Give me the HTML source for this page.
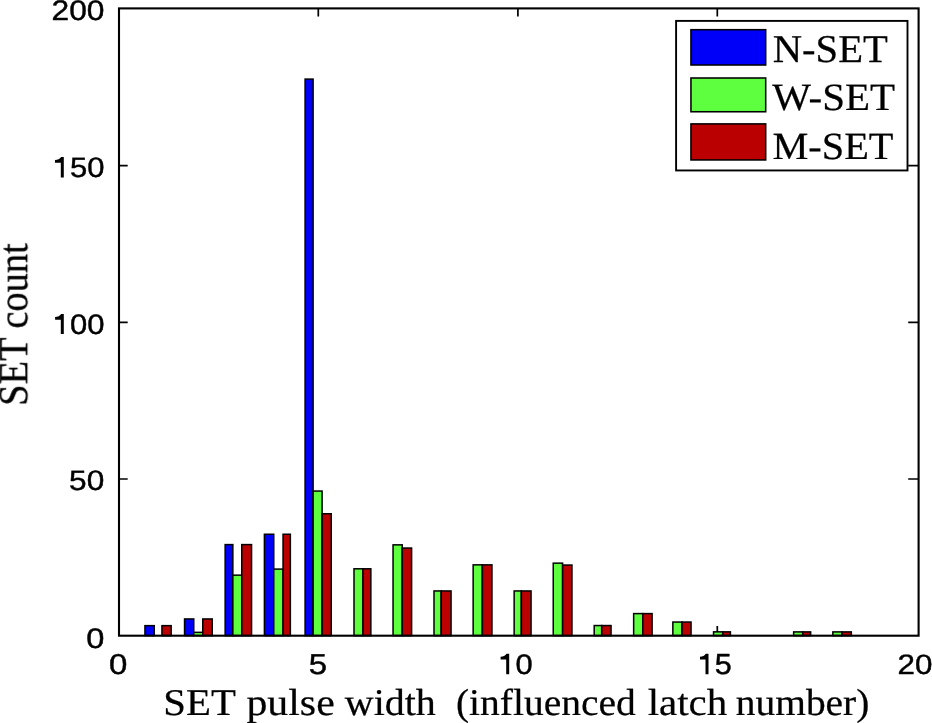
<!DOCTYPE html>
<html><head><meta charset="utf-8"><style>
html,body{margin:0;padding:0;background:#fff;}
body{width:932px;height:723px;overflow:hidden;position:relative;}
svg{position:absolute;left:0;top:0;filter:blur(0.3px);}
text{fill:#000;stroke:#000;stroke-width:0.45px;stroke-linejoin:round;text-rendering:geometricPrecision;}
text[style*="Serif"]{stroke-width:0.25px;}
</style></head><body>
<svg width="932" height="723" viewBox="0 0 932 723">
<rect x="0" y="0" width="932" height="723" fill="#fff"/>
<path d="M318.30 635.7V626.1M318.30 8.4V16.6M517.90 635.7V626.1M517.90 8.4V16.6M717.30 635.7V626.1M717.30 8.4V16.6M119.0 479.00H127.7M918.6 479.00H908.2M119.0 322.35H127.7M918.6 322.35H908.2M119.0 165.55H127.7M918.6 165.55H908.2" stroke="#000" stroke-width="1.7" fill="none"/>
<g stroke="#000" stroke-width="1.5" stroke-linejoin="miter">
<rect x="144.95" y="625.65" width="9.30" height="9.95" fill="#0000FA"/>
<rect x="161.95" y="625.65" width="9.20" height="9.95" fill="#BA0000"/>
<rect x="184.55" y="618.95" width="9.20" height="16.65" fill="#0000FA"/>
<rect x="193.75" y="632.35" width="9.00" height="3.25" fill="#5EFF3F"/>
<rect x="202.75" y="618.95" width="9.50" height="16.65" fill="#BA0000"/>
<rect x="225.15" y="544.60" width="7.70" height="91.00" fill="#0000FA"/>
<rect x="232.85" y="575.15" width="8.90" height="60.45" fill="#5EFF3F"/>
<rect x="241.75" y="544.60" width="9.80" height="91.00" fill="#BA0000"/>
<rect x="264.40" y="534.25" width="9.35" height="101.35" fill="#0000FA"/>
<rect x="273.75" y="569.10" width="9.30" height="66.50" fill="#5EFF3F"/>
<rect x="283.05" y="534.25" width="7.30" height="101.35" fill="#BA0000"/>
<rect x="305.10" y="79.10" width="8.00" height="556.50" fill="#0000FA"/>
<rect x="313.10" y="491.05" width="9.00" height="144.55" fill="#5EFF3F"/>
<rect x="322.10" y="513.75" width="9.15" height="121.85" fill="#BA0000"/>
<rect x="354.00" y="568.80" width="8.95" height="66.80" fill="#5EFF3F"/>
<rect x="362.95" y="568.80" width="7.90" height="66.80" fill="#BA0000"/>
<rect x="393.05" y="544.85" width="9.20" height="90.75" fill="#5EFF3F"/>
<rect x="402.25" y="548.05" width="9.35" height="87.55" fill="#BA0000"/>
<rect x="434.00" y="590.95" width="7.20" height="44.65" fill="#5EFF3F"/>
<rect x="441.20" y="590.95" width="9.85" height="44.65" fill="#BA0000"/>
<rect x="473.15" y="564.85" width="9.20" height="70.75" fill="#5EFF3F"/>
<rect x="482.35" y="564.85" width="9.60" height="70.75" fill="#BA0000"/>
<rect x="514.15" y="590.95" width="7.20" height="44.65" fill="#5EFF3F"/>
<rect x="521.35" y="590.95" width="9.70" height="44.65" fill="#BA0000"/>
<rect x="553.25" y="563.15" width="9.35" height="72.45" fill="#5EFF3F"/>
<rect x="562.60" y="565.05" width="9.35" height="70.55" fill="#BA0000"/>
<rect x="594.20" y="625.55" width="7.50" height="10.05" fill="#5EFF3F"/>
<rect x="601.70" y="625.55" width="9.35" height="10.05" fill="#BA0000"/>
<rect x="633.65" y="613.60" width="9.10" height="22.00" fill="#5EFF3F"/>
<rect x="642.75" y="613.60" width="9.35" height="22.00" fill="#BA0000"/>
<rect x="672.85" y="622.05" width="9.10" height="13.55" fill="#5EFF3F"/>
<rect x="681.95" y="622.05" width="9.10" height="13.55" fill="#BA0000"/>
<rect x="713.55" y="631.85" width="9.15" height="3.75" fill="#5EFF3F"/>
<rect x="722.70" y="631.85" width="7.70" height="3.75" fill="#BA0000"/>
<rect x="793.65" y="631.90" width="9.05" height="3.70" fill="#5EFF3F"/>
<rect x="802.70" y="631.90" width="7.95" height="3.70" fill="#BA0000"/>
<rect x="832.85" y="631.90" width="9.15" height="3.70" fill="#5EFF3F"/>
<rect x="842.00" y="631.90" width="9.35" height="3.70" fill="#BA0000"/>
</g>
<rect x="119.0" y="8.4" width="799.6" height="627.3000000000001" fill="none" stroke="#000" stroke-width="2.1"/>
<rect x="676.1" y="20.9" width="231.4" height="149.55" fill="#fff" stroke="#000" stroke-width="1.9"/>
<g stroke="#000" stroke-width="1.55">
<rect x="690.95" y="29.7" width="74.75" height="35.3" fill="#0000FA"/>
<rect x="690.95" y="78.0" width="74.75" height="33.75" fill="#5EFF3F"/>
<rect x="690.95" y="123.9" width="74.75" height="36.05" fill="#BA0000"/>
</g>
<g style="opacity:0.999">
<text transform="matrix(1.1232 0 0 0.9799 86.31 648.03)" style="font-family:&quot;Liberation Sans&quot;,sans-serif;font-size:29px" xml:space="preserve">0</text>
<text transform="matrix(1.0899 0 0 0.9708 69.10 490.17)" style="font-family:&quot;Liberation Sans&quot;,sans-serif;font-size:29px" xml:space="preserve">50</text>
<text transform="matrix(1.0680 0 0 0.9739 52.70 333.63)" style="font-family:&quot;Liberation Sans&quot;,sans-serif;font-size:29px" xml:space="preserve"><tspan visibility="hidden">1</tspan>00</text>
<text transform="matrix(1.0680 0 0 0.9708 52.70 176.87)" style="font-family:&quot;Liberation Sans&quot;,sans-serif;font-size:29px" xml:space="preserve"><tspan visibility="hidden">1</tspan>50</text>
<text transform="matrix(1.0936 0 0 0.9779 51.49 19.83)" style="font-family:&quot;Liberation Sans&quot;,sans-serif;font-size:29px" xml:space="preserve">200</text>
<path d="M61.10 313.90H63.80V333.95H60.80V319.70H55.10V316.90C57.70 316.80 59.90 315.90 61.10 313.90Z" fill="#000"/>
<path d="M61.10 157.00H63.80V177.40H60.80V162.80H55.00V160.00C57.60 159.90 59.90 159.00 61.10 157.00Z" fill="#000"/>
<path d="M506.50 653.80H509.20V674.20H506.20V659.60H500.60V656.80C503.20 656.70 505.30 655.80 506.50 653.80Z" fill="#000"/>
<path d="M705.80 653.80H708.50V674.30H705.50V659.60H700.00V656.80C702.60 656.70 704.60 655.80 705.80 653.80Z" fill="#000"/>
<text transform="matrix(1.1377 0 0 0.9846 108.99 674.13)" style="font-family:&quot;Liberation Sans&quot;,sans-serif;font-size:29px" xml:space="preserve">0</text>
<text transform="matrix(1.1374 0 0 0.9927 308.74 673.95)" style="font-family:&quot;Liberation Sans&quot;,sans-serif;font-size:29px" xml:space="preserve">5</text>
<text transform="matrix(1.0642 0 0 0.9786 498.31 673.83)" style="font-family:&quot;Liberation Sans&quot;,sans-serif;font-size:29px" xml:space="preserve"><tspan visibility="hidden">1</tspan>0</text>
<text transform="matrix(1.0538 0 0 0.9999 697.74 673.95)" style="font-family:&quot;Liberation Sans&quot;,sans-serif;font-size:29px" xml:space="preserve"><tspan visibility="hidden">1</tspan>5</text>
<text transform="matrix(1.0803 0 0 0.9684 897.61 673.83)" style="font-family:&quot;Liberation Sans&quot;,sans-serif;font-size:29px" xml:space="preserve">20</text>
<text transform="matrix(1.0732 0 0 0.9934 163.32 715.19)" style="font-family:&quot;Liberation Serif&quot;,serif;font-size:38px">SET</text>
<text transform="matrix(1.1002 0 0 0.9934 246.45 715.19)" style="font-family:&quot;Liberation Serif&quot;,serif;font-size:38px">pulse</text>
<text transform="matrix(1.0511 0 0 0.9934 344.84 715.19)" style="font-family:&quot;Liberation Serif&quot;,serif;font-size:38px">width</text>
<text transform="matrix(1.0394 0 0 0.9934 455.97 715.19)" style="font-family:&quot;Liberation Serif&quot;,serif;font-size:38px">(influenced</text>
<text transform="matrix(1.0774 0 0 0.9934 647.70 715.19)" style="font-family:&quot;Liberation Serif&quot;,serif;font-size:38px">latch</text>
<text transform="matrix(1.0374 0 0 0.9934 735.83 715.19)" style="font-family:&quot;Liberation Serif&quot;,serif;font-size:38px">number)</text>
<text transform="matrix(0 -1.0119 1.0973 0 27.52 405.83)" style="font-family:&quot;Liberation Serif&quot;,serif;font-size:38px">SET count</text>
<text transform="matrix(1.0420 0 0 1.0064 772.68 62.28)" style="font-family:&quot;Liberation Serif&quot;,serif;font-size:39px" xml:space="preserve">N-SET</text>
<text transform="matrix(1.0511 0 0 0.9912 772.14 110.09)" style="font-family:&quot;Liberation Serif&quot;,serif;font-size:39px" xml:space="preserve">W-SET</text>
<text transform="matrix(1.0344 0 0 0.9875 772.39 158.59)" style="font-family:&quot;Liberation Serif&quot;,serif;font-size:39px" xml:space="preserve">M-SET</text>
</g>
</svg>
</body></html>
